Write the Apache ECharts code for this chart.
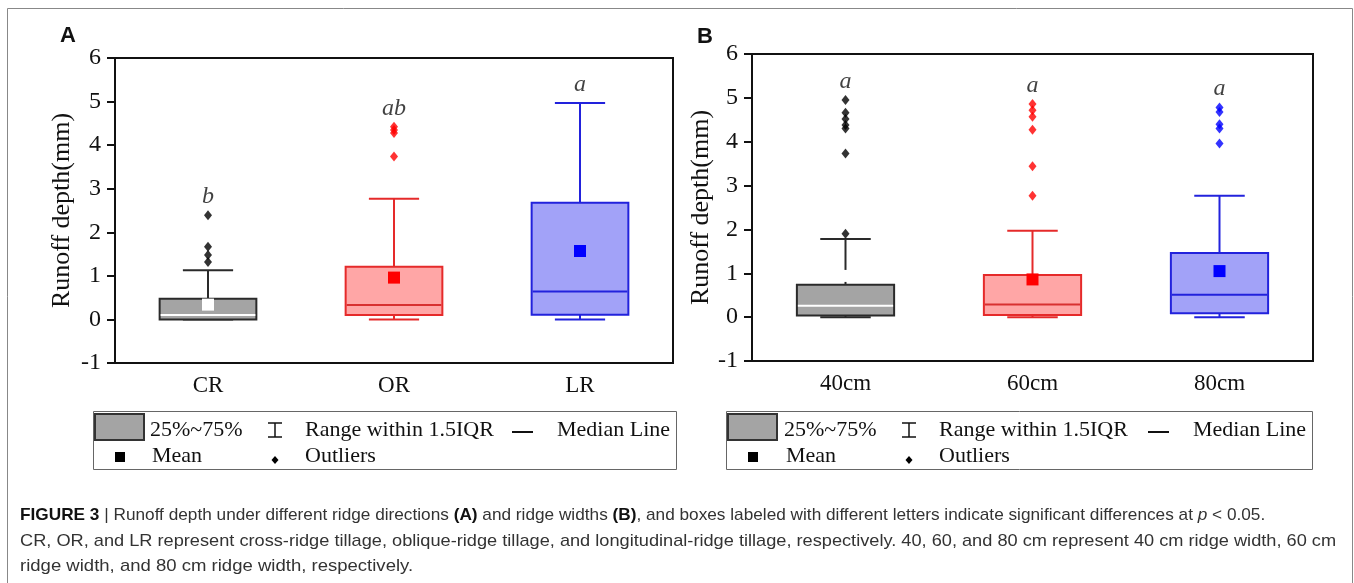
<!DOCTYPE html>
<html>
<head>
<meta charset="utf-8">
<title>Runoff depth</title>
<script src="https://cdn.jsdelivr.net/npm/echarts@6/dist/echarts.min.js"></script>
<style>
  html, body { margin: 0; padding: 0; background: #fff; }
  #chart { width: 1354px; height: 583px; }
</style>
</head>
<body>
<div id="chart"></div>
<script>
// panel A: ridge direction
const dirCats = ['CR', 'OR', 'LR'];
const dirMin = [0, 0, 0];
const dirQ1 = [0, 0.1, 0.11];
const dirMedian = [0.1, 0.33, 0.64];
const dirQ3 = [0.475, 1.21, 2.68];
const dirMax = [1.13, 2.77, 4.97];
const dirMean = [0.34, 0.96, 1.57];
const dirOutliers = [[1.32, 1.48, 1.67, 2.39], [3.74, 4.28, 4.35, 4.42], []];
const dirLetters = ['b', 'ab', 'a'];

// panel B: ridge width
const widCats = ['40cm', '60cm', '80cm'];
const widMin = [0, 0, 0];
const widQ1 = [0.04, 0.05, 0.09];
const widMedian = [0.26, 0.29, 0.51];
const widQ3 = [0.74, 0.96, 1.46];
const widMax = [1.78, 1.97, 2.77];
const widMean = [0.94, 0.86, 1.05];
const widOutliers = [[1.9, 3.73, 4.3, 4.38, 4.52, 4.66, 4.95], [2.77, 3.44, 4.27, 4.57, 4.72, 4.86], [3.96, 4.3, 4.4, 4.68, 4.78]];
const widLetters = ['a', 'a', 'a'];

const yMin = -1, yMax = 6, yStep = 1;

const serif = '"Liberation Serif", "Times New Roman", serif';
const sans = '"Liberation Sans", Arial, sans-serif';

// gray / red / blue box styles
const palette = [
  { fill: '#a4a4a4', line: '#2a2a2a', median: '#ffffff', mean: '#ffffff', dot: '#000000' },
  { fill: '#ffa6a6', line: '#e52a2a', median: '#d83030', mean: '#ff0000', dot: '#ff0000' },
  { fill: '#a2a2f8', line: '#2222dc', median: '#2222dc', mean: '#0000ff', dot: '#0000ff' }
];

const chart = echarts.init(document.getElementById('chart'));

function boxRows(mins, q1, med, q3, maxs, means) {
  return mins.map((m, i) => [i, m, q1[i], med[i], q3[i], maxs[i], means[i]]);
}

function renderBox(params, api) {
  const i = api.value(0);
  const c = palette[i];
  const band = api.size([1, 0])[0];
  const half = band * 0.26;
  const cap = band * 0.135;
  const pMin = api.coord([i, api.value(1)]);
  const pQ1 = api.coord([i, api.value(2)]);
  const pMed = api.coord([i, api.value(3)]);
  const pQ3 = api.coord([i, api.value(4)]);
  const pMax = api.coord([i, api.value(5)]);
  const pMean = api.coord([i, api.value(6)]);
  const x = pQ1[0];
  const ln = { stroke: c.line, lineWidth: 2, fill: null };
  return {
    type: 'group',
    children: [
      { type: 'line', shape: { x1: x, y1: pQ3[1], x2: x, y2: pMax[1] }, style: ln },
      { type: 'line', shape: { x1: x - cap, y1: pMax[1], x2: x + cap, y2: pMax[1] }, style: ln },
      { type: 'line', shape: { x1: x, y1: pMin[1], x2: x, y2: pQ1[1] }, style: ln },
      { type: 'line', shape: { x1: x - cap, y1: pMin[1], x2: x + cap, y2: pMin[1] }, style: ln },
      { type: 'rect', shape: { x: x - half, y: pQ3[1], width: half * 2, height: pQ1[1] - pQ3[1] },
        style: { fill: c.fill, stroke: c.line, lineWidth: 2 } },
      { type: 'line', shape: { x1: x - half + 1, y1: pMed[1], x2: x + half - 1, y2: pMed[1] },
        style: { stroke: c.median, lineWidth: 2 } },
      { type: 'rect', shape: { x: pMean[0] - 6, y: pMean[1] - 6, width: 12, height: 12 },
        style: { fill: c.mean } }
    ]
  };
}

function outlierPoints(outs) {
  const pts = [];
  outs.forEach((list, i) => list.forEach(v => pts.push({ value: [i, v], itemStyle: { color: palette[i].dot } })));
  return pts;
}

// letter sits just above the highest mark of each group
function letterPoints(maxs, outs) {
  return maxs.map((m, i) => [i, Math.max(m, ...outs[i])]);
}

function xAxisOf(cats, gi) {
  return {
    type: 'category', gridIndex: gi, data: cats,
    axisLine: { onZero: false, lineStyle: { color: '#111', width: 2 } },
    axisTick: { alignWithLabel: true, length: 7, lineStyle: { color: '#111', width: 2 } },
    axisLabel: { color: '#111', fontFamily: serif, fontSize: 23, margin: 11 }
  };
}

function yAxisOf(gi, gap) {
  return {
    type: 'value', gridIndex: gi, min: yMin, max: yMax, interval: yStep,
    name: 'Runoff depth(mm)', nameLocation: 'middle', nameGap: gap, nameRotate: 90,
    nameTextStyle: { color: '#111', fontFamily: serif, fontSize: 26 },
    axisLine: { show: true, lineStyle: { color: '#111', width: 2 } },
    axisTick: { show: true, length: 8, lineStyle: { color: '#111', width: 2 } },
    axisLabel: { color: '#111', fontFamily: serif, fontSize: 24, margin: 14 },
    splitLine: { show: false }
  };
}

function seriesFor(gi, rows, outs, maxs, letters) {
  return [
    {
      type: 'custom', xAxisIndex: gi, yAxisIndex: gi, z: 2,
      renderItem: renderBox, data: rows,
      encode: { x: 0, y: [1, 2, 3, 4, 5, 6] }
    },
    {
      type: 'scatter', xAxisIndex: gi, yAxisIndex: gi, z: 3,
      symbol: 'diamond', symbolSize: [8, 10], data: outlierPoints(outs)
    },
    {
      type: 'scatter', xAxisIndex: gi, yAxisIndex: gi, z: 4, silent: true,
      symbolSize: 1, itemStyle: { color: 'rgba(0,0,0,0)' },
      data: letterPoints(maxs, outs),
      label: {
        show: true, position: 'top', distance: 6,
        formatter: p => letters[p.dataIndex],
        color: '#111', fontFamily: serif, fontStyle: 'italic', fontSize: 24, lineHeight: 24
      }
    }
  ];
}

function legendBox(o) {
  const r1 = 430, r2 = 456;
  const txt = (x, y, s) => ({ type: 'text',
    style: { x: x, y: y, text: s, fill: '#111', font: '22px ' + serif, verticalAlign: 'middle' } });
  const stroke = { stroke: '#111', lineWidth: 1.5 };
  return [
    { type: 'rect', shape: { x: o.left + 0.5, y: 411.5, width: o.right - o.left, height: 58 },
      style: { fill: '#fff', stroke: '#666', lineWidth: 1 } },
    { type: 'rect', shape: { x: o.left + 2, y: 414, width: 49, height: 26 },
      style: { fill: '#a4a4a4', stroke: '#333', lineWidth: 2 } },
    txt(o.pct, r1, '25%~75%'),
    { type: 'line', shape: { x1: o.bar, y1: 423, x2: o.bar, y2: 437 }, style: stroke },
    { type: 'line', shape: { x1: o.bar - 7, y1: 423, x2: o.bar + 7, y2: 423 }, style: stroke },
    { type: 'line', shape: { x1: o.bar - 7, y1: 437, x2: o.bar + 7, y2: 437 }, style: stroke },
    txt(o.bar + 30, r1, 'Range within 1.5IQR'),
    { type: 'line', shape: { x1: o.median - 45, y1: 432, x2: o.median - 24, y2: 432 }, style: { stroke: '#111', lineWidth: 2 } },
    txt(o.median, r1, 'Median Line'),
    { type: 'rect', shape: { x: o.left + 22, y: r2 - 4, width: 10, height: 10 }, style: { fill: '#000' } },
    txt(o.pct + 2, r2, 'Mean'),
    { type: 'polygon', shape: { points: [[o.bar, r2], [o.bar + 3.5, r2 + 4], [o.bar, r2 + 8], [o.bar - 3.5, r2 + 4]] },
      style: { fill: '#000' } },
    txt(o.bar + 30, r2, 'Outliers')
  ];
}

// caption, one element per line so each can be stretched to the printed width
const capRich = {
  b: { fontFamily: sans, fontSize: 17, fontWeight: 'bold', fill: '#111' },
  i: { fontFamily: sans, fontSize: 17, fontStyle: 'italic', fill: '#333' }
};
function capLine(y, stretch, s) {
  return { type: 'text', x: 20, y: y, scaleX: stretch,
    style: { x: 0, y: 0, text: s, fill: '#333', fontFamily: sans, fontSize: 17, verticalAlign: 'middle', rich: capRich } };
}
const caption = [
  capLine(515, 1.013, '{b|FIGURE 3} | Runoff depth under different ridge directions {b|(A)} and ridge widths {b|(B)}, and boxes labeled with different letters indicate significant differences at {i|p} < 0.05.'),
  capLine(541, 1.07, 'CR, OR, and LR represent cross-ridge tillage, oblique-ridge tillage, and longitudinal-ridge tillage, respectively. 40, 60, and 80 cm represent 40 cm ridge width, 60 cm'),
  capLine(566, 1.09, 'ridge width, and 80 cm ridge width, respectively.')
];

const option = {
  backgroundColor: '#fff',
  animation: false,
  grid: [
    { left: 115, top: 58, width: 558, height: 305, show: true, borderColor: '#111', borderWidth: 2 },
    { left: 752, top: 54, width: 561, height: 307, show: true, borderColor: '#111', borderWidth: 2 }
  ],
  xAxis: [xAxisOf(dirCats, 0), xAxisOf(widCats, 1)],
  yAxis: [yAxisOf(0, 40), yAxisOf(1, 38)],
  series: [].concat(
    seriesFor(0, boxRows(dirMin, dirQ1, dirMedian, dirQ3, dirMax, dirMean), dirOutliers, dirMax, dirLetters),
    seriesFor(1, boxRows(widMin, widQ1, widMedian, widQ3, widMax, widMean), widOutliers, widMax, widLetters)
  ),
  graphic: [
    { type: 'rect', shape: { x: 7.5, y: 8.5, width: 1345, height: 620 }, style: { fill: null, stroke: '#888', lineWidth: 1 } },
    { type: 'text', left: 60, top: 25, style: { text: 'A', fill: '#111', font: 'bold 22px ' + sans } },
    { type: 'text', left: 697, top: 26, style: { text: 'B', fill: '#111', font: 'bold 22px ' + sans } }
  ].concat(
    caption,
    legendBox({ left: 93, right: 676, pct: 150, bar: 275, median: 557 }),
    legendBox({ left: 726, right: 1312, pct: 784, bar: 909, median: 1193 })
  )
};

chart.setOption(option);
</script>
</body>
</html>
